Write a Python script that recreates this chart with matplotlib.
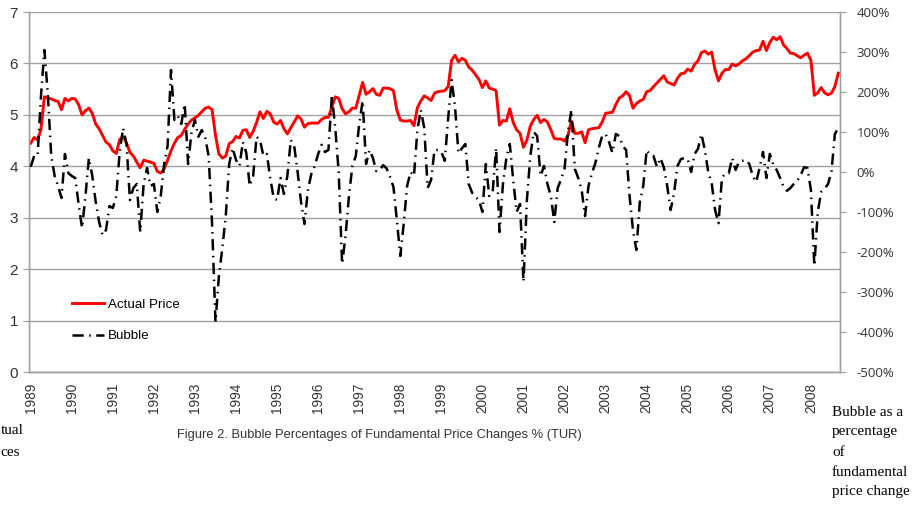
import matplotlib
matplotlib.use("Agg")
import numpy as np
import matplotlib.pyplot as plt
from matplotlib.ticker import FuncFormatter

# monthly values, Jan 1989 .. Sep 2008
years = list(range(1989, 2009))

price = [
    4.45, 4.56, 4.51, 4.72, 5.35, 5.33, 5.31, 5.28, 5.26, 5.10, 5.32, 5.27,
    5.32, 5.31, 5.20, 5.00, 5.08, 5.13, 5.03, 4.82, 4.73, 4.60, 4.47, 4.42,
    4.30, 4.25, 4.52, 4.58, 4.45, 4.27, 4.20, 4.08, 3.97, 4.12, 4.10, 4.08,
    4.06, 3.90, 3.87, 3.95, 4.12, 4.30, 4.45, 4.56, 4.60, 4.72, 4.82, 4.90,
    4.94, 4.99, 5.06, 5.13, 5.15, 5.10, 4.60, 4.24, 4.16, 4.20, 4.44, 4.48,
    4.58, 4.55, 4.70, 4.71, 4.56, 4.68, 4.85, 5.06, 4.93, 5.07, 5.02, 4.86,
    4.82, 4.89, 4.73, 4.63, 4.75, 4.86, 4.98, 4.92, 4.76, 4.83, 4.84, 4.84,
    4.84, 4.91, 4.95, 4.95, 5.15, 5.35, 5.32, 5.12, 5.02, 5.06, 5.13, 5.13,
    5.38, 5.63, 5.40, 5.45, 5.51, 5.40, 5.38, 5.52, 5.52, 5.51, 5.47, 5.09,
    4.90, 4.88, 4.88, 4.89, 4.79, 5.14, 5.27, 5.37, 5.33, 5.28, 5.42, 5.45,
    5.46, 5.47, 5.55, 6.06, 6.16, 6.03, 6.10, 6.06, 5.93, 5.87, 5.78, 5.69,
    5.53, 5.66, 5.52, 5.50, 5.47, 4.80, 4.89, 4.88, 5.12, 4.85, 4.71, 4.64,
    4.37, 4.51, 4.78, 4.91, 4.99, 4.85, 4.91, 4.86, 4.71, 4.54, 4.53, 4.53,
    4.49, 4.60, 4.88, 4.64, 4.64, 4.67, 4.46, 4.71, 4.73, 4.74, 4.75, 4.86,
    5.03, 5.04, 5.05, 5.20, 5.33, 5.37, 5.45, 5.37, 5.13, 5.22, 5.27, 5.30,
    5.45, 5.47, 5.55, 5.62, 5.69, 5.76, 5.64, 5.61, 5.58, 5.71, 5.80, 5.81,
    5.89, 5.85, 5.98, 6.05, 6.21, 6.24, 6.18, 6.22, 5.87, 5.66, 5.81, 5.88,
    5.88, 5.99, 5.95, 5.99, 6.05, 6.09, 6.15, 6.22, 6.25, 6.26, 6.43, 6.25,
    6.41, 6.51, 6.46, 6.52, 6.36, 6.29, 6.20, 6.19, 6.15, 6.11, 6.16, 6.20,
    6.06, 5.38, 5.43, 5.53, 5.43, 5.39, 5.42, 5.55, 5.81,
]

# bubble as % of fundamental price change
bubble = [
    13, 40, 40, 190, 305, 195, 40, -10, -35, -65, 45, -3,
    -10, -15, -80, -140, -60, 35, -10, -75, -125, -158, -145, -85,
    -90, -60, 50, 110, 70, -70, -40, -30, -150, -30, 10, -35,
    -30, -100, -60, 20, 65, 255, 130, 140, 120, 170, 20, 100,
    130, 88, 105, 85, 40, -130, -375, -260, -190, -110, 20, 60,
    30, 15, 75, 48, -35, -10, 88, 80, 40, 45, -15, -65,
    -70, -15, -55, -10, 80, 65, 0, -75, -130, -45, -5, 15,
    45, 68, 50, 55, 190, 110, 0, -230, -160, -60, 15, 40,
    120, 178, 20, 55, 35, 2, 5, 17, 9, -12, -37, -120,
    -210, -130, -35, 0, -10, 105, 155, 110, -40, -20, 55, 55,
    50, 28, 135, 230, 163, 47, 59, 70, -30, -52, -63, -70,
    -100, 20, -60, -50, 60, -150, -30, 35, 70, -20, -100, -80,
    -275, -70, 40, 100, 90, -10, 15, -30, -60, -125, -40, -18,
    8, 100, 155, 8, -15, -45, -110, -35, -3, 22, 60, 90,
    95, 75, 48, 95, 90, 65, 55, -60, -145, -195, -75, -35,
    55, 42, 40, 13, 35, 12, -35, -95, -53, 15, 32, 35,
    32, 0, 45, 58, 95, 55, 0, -28, -95, -128, -15, -3,
    -3, 35, 5, 26, 28, 30, 20, -10, -25, 10, 50, -15,
    45, 18, 5, -15, -37, -47, -40, -30, -22, -8, 12, 10,
    -45, -235, -100, -50, -42, -30, 0, 95, 110,
]

sans = ["Liberation Sans", "DejaVu Sans"]
serif = ["Liberation Serif", "DejaVu Serif"]
txt = "#333333"
grid_c = "#a0a0a0"

fig = plt.figure(figsize=(9.15, 5.09), dpi=100)
ax = fig.add_axes([29 / 915, 137 / 509, 811 / 915, 360 / 509])
ax2 = ax.twinx()

x = np.arange(len(price))
ax.plot(x, price, color="#ff0000", lw=2.1, label="Actual Price", zorder=3)
ax2.plot(x, bubble, color="black", lw=1.8, linestyle=(0, (4.5, 2.2, 0.6, 2.2)),
         label="Bubble", zorder=3)

ax.set_xlim(-0.5, len(price) - 0.5)
ax.set_ylim(0, 7)
ax.set_yticks(range(0, 8))
ax2.set_ylim(-500, 400)
ax2.set_yticks(range(-500, 401, 100))
ax2.yaxis.set_major_formatter(FuncFormatter(lambda v, p: f"{v:.0f}%"))

ax.set_xticks(range(0, len(price), 12))
ax.set_xticklabels([str(y) for y in years], rotation=90, family=sans,
                   fontsize=9.8, color=txt)
ax.tick_params(axis="x", length=0, pad=8)
ax.tick_params(axis="y", length=4, color=grid_c, labelsize=11, labelcolor=txt, pad=4)
ax2.tick_params(axis="y", length=4, color=grid_c, labelsize=9.5, labelcolor=txt, pad=8)
for lab in ax.get_yticklabels():
    lab.set_family(sans)
for lab in ax2.get_yticklabels():
    lab.set_family(["Open Sans", "DejaVu Sans"])

ax.yaxis.grid(True, color=grid_c, lw=1)
ax.set_axisbelow(True)
for a in (ax, ax2):
    a.spines["top"].set_visible(False)
    for s in ("left", "right", "bottom"):
        a.spines[s].set_color(grid_c)
        a.spines[s].set_linewidth(1)

h1, l1 = ax.get_legend_handles_labels()
h2, l2 = ax2.get_legend_handles_labels()
ax2.legend(h1 + h2, l1 + l2, loc="upper left", bbox_to_anchor=(0.038, 0.238),
           frameon=False, handlelength=2.45, handletextpad=0.25, labelspacing=1.45,
           prop={"family": sans, "size": 9.6})

fig.text(379 / 915, 1 - 435 / 509,
         "Figure 2. Bubble Percentages of Fundamental Price Changes % (TUR)",
         ha="center", va="center", family=sans, fontsize=9.3, color=txt)

# left-side label, only its right part is visible in the source
fig.text(0.5 / 915, 1 - 430 / 509, "tual", ha="left", va="center",
         family=serif, fontsize=11, color="black")
fig.text(0.5 / 915, 1 - 452 / 509, "ces", ha="left", va="center",
         family=serif, fontsize=11, color="black")

side = ["Bubble as a", "percentage", "of", "fundamental", "price change"]
for k, s in enumerate(side):
    fig.text(832 / 915, 1 - (412 + 20 * k) / 509, s, ha="left", va="center",
             family=serif, fontsize=11, color="black")

fig.savefig("out.png", dpi=100)
